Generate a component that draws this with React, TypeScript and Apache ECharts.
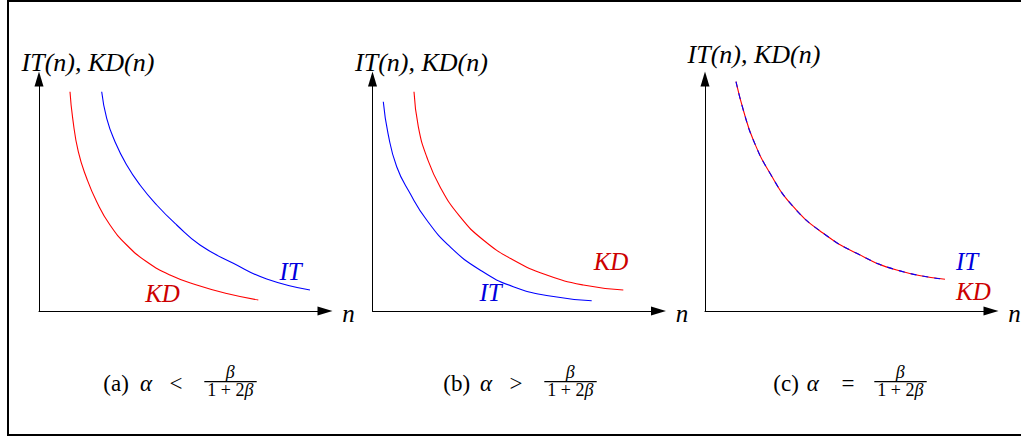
import { useEffect, useRef } from "react";
import * as echarts from "echarts";

// ---- texts ----
const yAxisTitle = "IT(n), KD(n)";
const xAxisTitle = "n";
const itLabel = "IT";
const kdLabel = "KD";
const captionTags = ["(a)", "(b)", "(c)"];
const captionRelations = ["<", ">", "="];
const captionAlpha = "α";
const fractionNumerator = "β";
const fractionDenominatorDigits = "1 + 2";
const fractionDenominatorSymbol = "β";

// ---- curve values (x, y), axes run 0..286 and 0..232 ----
const panelA_KD: [number, number][] = [
  [31, 219.3], [33.7, 192.7], [39.3, 159.3], [47.7, 132.7], [57.7, 109.3], [71, 86],
  [87.7, 66], [107.7, 49.3], [131, 36], [157.7, 26], [187.7, 17.5], [219.3, 11],
];
const panelA_IT: [number, number][] = [
  [62.7, 219.3], [67.7, 192.7], [76, 169.3], [87.7, 146], [101, 126], [117.7, 106],
  [137.7, 86], [161, 66], [194.3, 47.7], [227.7, 32], [271, 21],
];
const panelB_IT: [number, number][] = [
  [10.8, 209.3], [15.5, 177.7], [24.2, 144.3], [37.5, 117.7], [54.2, 91], [77.5, 64.3],
  [107.5, 41], [140.8, 24.3], [177.5, 15], [219.2, 10.3],
];
const panelB_KD: [number, number][] = [
  [41.5, 219.3], [45.8, 184.3], [54.2, 154.3], [67.5, 124.3], [87.5, 94.3], [110.8, 71],
  [140.8, 51], [174.2, 36], [210.8, 26], [250.8, 21],
];
const panelC_KD: [number, number][] = [
  [31, 229.3], [38.3, 201], [48.3, 171], [65, 137.7], [88.3, 104.3], [118.3, 77.7],
  [151.7, 57.7], [191.7, 41], [240, 31.7],
];
const panelC_IT: [number, number][] = [
  [31, 229.3], [38.3, 201], [48.3, 171], [65, 137.7], [88.3, 104.3], [118.3, 77.7],
  [151.7, 57.7], [191.7, 41], [240, 31.7],
];
const X_MAX = 286;
const Y_MAX = 232;

// ---- layout ----
const ORIGIN_X = [39, 372.5, 705];
const ORIGIN_Y = 311;
const AXIS_W = 286;
const AXIS_H = 232;
const TITLE_Y = [62.5, 62.5, 54];
const RED = "#ff0000";
const BLUE = "#0000ff";
const RED_TXT = "#cc0000";
const BLUE_TXT = "#0000dd";
const SERIF = "Liberation Serif, Times New Roman, serif";

function txt(text: string, x: number, y: number, opts: any = {}) {
  const align = opts.align || "center";
  return {
    type: "text",
    x,
    y,
    silent: true,
    z: 100,
    style: {
      text,
      fill: opts.fill || "#000",
      fontSize: opts.size || 25,
      fontFamily: SERIF,
      fontStyle: opts.italic === false ? "normal" : "italic",
      textAlign: align,
      align,
      textVerticalAlign: "middle",
      verticalAlign: "middle",
    },
  };
}

function buildOption() {
  const grids = ORIGIN_X.map((x) => ({
    left: x,
    top: ORIGIN_Y - AXIS_H,
    width: AXIS_W,
    height: AXIS_H,
    containLabel: false,
    outerBoundsMode: "none",
  }));
  const axisCommon = (i: number, max: number) => ({
    type: "value",
    gridIndex: i,
    min: 0,
    max,
    axisLine: {
      show: true,
      onZero: false,
      symbol: ["none", "triangle"],
      symbolSize: [9, 15],
      lineStyle: { color: "#000", width: 1 },
    },
    axisTick: { show: false },
    axisLabel: { show: false },
    splitLine: { show: false },
  });
  const line = (i: number, name: string, data: [number, number][], color: string, dashed = false) => ({
    type: "line",
    name,
    xAxisIndex: i,
    yAxisIndex: i,
    data,
    smooth: true,
    symbol: "none",
    showSymbol: false,
    silent: true,
    lineStyle: { color, width: 1.1, type: dashed ? [6, 6] : "solid" },
  });

  const graphic: any[] = [
    {
      type: "rect",
      shape: { x: 8, y: 1, width: 1040, height: 434 },
      style: { fill: "none", stroke: "#000", lineWidth: 2 },
      silent: true,
    },
  ];
  ORIGIN_X.forEach((ox, i) => {
    graphic.push(txt(yAxisTitle, ox + 49, TITLE_Y[i], { size: 26 }));
    graphic.push(txt(xAxisTitle, ox + 309.5, 313.5));
  });
  // curve labels
  graphic.push(txt(itLabel, 290.5, 271.5, { fill: BLUE_TXT }));
  graphic.push(txt(kdLabel, 162.5, 293.5, { fill: RED_TXT }));
  graphic.push(txt(kdLabel, 611, 261.5, { fill: RED_TXT }));
  graphic.push(txt(itLabel, 490.5, 292.5, { fill: BLUE_TXT }));
  graphic.push(txt(itLabel, 956, 261, { fill: BLUE_TXT, align: "left" }));
  graphic.push(txt(kdLabel, 956, 291.5, { fill: RED_TXT, align: "left" }));

  // captions
  const capStart = [103.3, 443.3, 773.3];
  const alphaOff = [36.7, 36.7, 33.4];
  const relOff = [72.7, 72.7, 74.7];
  capStart.forEach((s, i) => {
    graphic.push(txt(captionTags[i], s, 383.5, { italic: false, size: 23, align: "left" }));
    graphic.push(txt(captionAlpha, s + alphaOff[i], 383.5, { size: 23, align: "left" }));
    graphic.push(txt(captionRelations[i], s + relOff[i], 383.5, { italic: false, size: 23 }));
    graphic.push({
      type: "line",
      shape: { x1: s + 101, y1: 381.7, x2: s + 153.4, y2: 381.7 },
      style: { stroke: "#000", lineWidth: 1.3 },
      silent: true,
    });
    graphic.push(txt(fractionNumerator, s + 127, 372, { size: 18 }));
    graphic.push({
      type: "text",
      x: s + 127,
      y: 390,
      silent: true,
      z: 100,
      style: {
        text: "{n|" + fractionDenominatorDigits + "}{b|" + fractionDenominatorSymbol + "}",
        textAlign: "center",
        align: "center",
        textVerticalAlign: "middle",
        verticalAlign: "middle",
        rich: {
          n: { fontSize: 18, fontFamily: SERIF, fill: "#000" },
          b: { fontSize: 18, fontFamily: SERIF, fontStyle: "italic", fill: "#000" },
        },
      },
    });
  });

  return {
    animation: false,
    backgroundColor: "#ffffff",
    grid: grids,
    xAxis: ORIGIN_X.map((_, i) => axisCommon(i, X_MAX)),
    yAxis: ORIGIN_X.map((_, i) => axisCommon(i, Y_MAX)),
    series: [
      line(0, "KD", panelA_KD, RED),
      line(0, "IT", panelA_IT, BLUE),
      line(1, "IT", panelB_IT, BLUE),
      line(1, "KD", panelB_KD, RED),
      line(2, "KD", panelC_KD, RED),
      line(2, "IT", panelC_IT, BLUE, true),
    ],
    graphic,
  };
}

export default function App() {
  const ref = useRef<HTMLDivElement>(null);
  useEffect(() => {
    const chart = echarts.init(ref.current!, null, { renderer: "svg" });
    chart.setOption(buildOption() as any);
    return () => chart.dispose();
  }, []);
  return (
    <div
      ref={ref}
      style={{ position: "absolute", left: 0, top: 0, width: 1021, height: 437, background: "#fff" }}
    />
  );
}
